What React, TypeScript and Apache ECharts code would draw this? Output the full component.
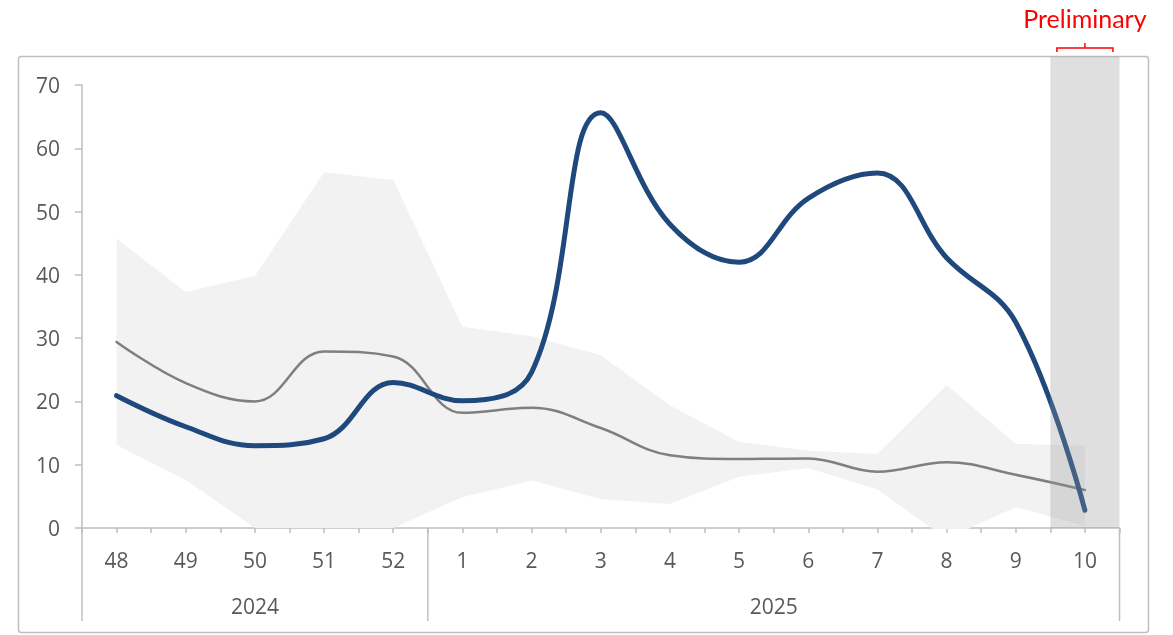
import React, { useEffect, useRef } from "react";
import * as echarts from "echarts";

const weeks = ["48", "49", "50", "51", "52", "1", "2", "3", "4", "5", "6", "7", "8", "9", "10"];
const years = ["2024", "2025"];
const yearStartIndex = [0, 5];
const current = [20.9, 16.0, 13.0, 14.1, 23.0, 20.1, 24.6, 65.6, 48.0, 42.0, 52.1, 56.1, 42.7, 32.5, 2.8];
const average = [29.4, 22.9, 20.0, 27.9, 27.1, 18.2, 19.0, 15.8, 11.5, 10.9, 11.0, 8.9, 10.4, 8.4, 6.0];
const rangeMin = [13.1, 7.6, 0, 0, 0, 4.9, 7.5, 4.6, 3.8, 8.1, 9.5, 6.1, -1.7, 3.3, 0.3];
const rangeMax = [45.7, 37.3, 39.8, 56.2, 55.0, 31.8, 30.3, 27.3, 19.4, 13.6, 12.2, 11.7, 22.6, 13.3, 13.0];
const yMin = 0;
const yMax = 70;
const yInterval = 10;
const preliminaryIndex = 14;
const preliminaryLabel = "Preliminary";

export default function App() {
  const ref = useRef<HTMLDivElement>(null);
  useEffect(() => {
    const chart = echarts.init(ref.current!, null, { renderer: "svg" });
    const axisColor = "#BFBFBF";
    const labelColor = "#595959";
    const font = "'Open Sans', 'Noto Sans', sans-serif";
    const axisLine = { show: true, lineStyle: { color: axisColor, width: 1.5 } };
    chart.setOption({
      animation: false,
      grid: { left: 82, right: 53.5, top: 85, bottom: 107, containLabel: false },
      xAxis: [
        {
          type: "category",
          data: weeks,
          boundaryGap: true,
          position: "bottom",
          axisLine,
          axisTick: { show: true, length: 5, lineStyle: { color: axisColor, width: 1.5 } },
          axisLabel: { color: labelColor, fontSize: 21, margin: 21, fontFamily: font, interval: 0 },
          splitLine: { show: false },
        },
        {
          type: "category",
          data: weeks,
          boundaryGap: true,
          position: "bottom",
          axisLine: { show: false },
          axisTick: { show: true, alignWithLabel: true, length: 5, interval: 0, lineStyle: { color: axisColor, width: 1.5 } },
          axisLabel: { show: false },
          splitLine: { show: false },
        },
      ],
      yAxis: {
        type: "value",
        min: yMin,
        max: yMax,
        interval: yInterval,
        axisLine,
        axisTick: { show: true, length: 7, lineStyle: { color: axisColor, width: 1.5 } },
        splitLine: { show: false },
        axisLabel: { color: labelColor, fontSize: 21, margin: 22, fontFamily: font },
      },
      series: [
        {
          name: "min",
          type: "line",
          stack: "range",
          stackStrategy: "all",
          data: rangeMin,
          symbol: "none",
          lineStyle: { opacity: 0 },
          silent: true,
          z: 1,
        },
        {
          name: "range",
          type: "line",
          stack: "range",
          stackStrategy: "all",
          data: rangeMax.map((v, i) => v - rangeMin[i]),
          symbol: "none",
          lineStyle: { opacity: 0 },
          areaStyle: { color: "#F2F2F2", opacity: 1 },
          silent: true,
          z: 1,
        },
        {
          name: "average",
          type: "line",
          data: average,
          smooth: 0.4,
          symbol: "none",
          lineStyle: { color: "#7F7F7F", width: 2.5, cap: "round" },
          z: 3,
        },
        {
          name: "current",
          type: "line",
          data: current,
          smooth: 0.4,
          symbol: "none",
          lineStyle: { color: "#1F497D", width: 5, cap: "round" },
          z: 4,
        },
      ],
    });

    const px = (i: number) => chart.convertToPixel({ xAxisIndex: 0 }, i) as number;
    const y0 = chart.convertToPixel({ yAxisIndex: 0 }, yMin) as number;
    const step = px(1) - px(0);
    const frameTop = 56.5;
    const dividerBottom = 621;
    const elements: any[] = [];
    elements.push({
      type: "rect",
      shape: { x: 18.5, y: frameTop, width: 1130, height: 576, r: 3 },
      style: { fill: "none", stroke: axisColor, lineWidth: 1.5 },
      silent: true,
      z: 0,
    });
    const ends = yearStartIndex.map((s, j) => (j + 1 < yearStartIndex.length ? yearStartIndex[j + 1] - 1 : weeks.length - 1));
    const divXs: number[] = [];
    years.forEach((yr, j) => {
      const s = yearStartIndex[j];
      const e = ends[j];
      const cx = (px(s) + px(e)) / 2;
      divXs.push(px(s) - step / 2);
      elements.push({
        type: "text",
        style: { text: yr, x: cx, y: 606, textAlign: "center", textVerticalAlign: "middle", fontSize: 21, fill: labelColor, fontFamily: font },
        silent: true,
      });
    });
    divXs.push(px(weeks.length - 1) + step / 2);
    divXs.forEach((x) => {
      elements.push({
        type: "line",
        shape: { x1: x, y1: y0, x2: x, y2: dividerBottom },
        style: { stroke: axisColor, lineWidth: 1.5 },
        silent: true,
      });
    });
    const bc = px(preliminaryIndex);
    elements.push({
      type: "rect",
      shape: { x: bc - step / 2, y: frameTop, width: step, height: y0 - frameTop },
      style: { fill: "rgba(150,150,150,0.3)" },
      silent: true,
      z: 100,
    });
    elements.push({
      type: "text",
      style: { text: preliminaryLabel, x: bc, y: 18, textAlign: "center", textVerticalAlign: "middle", fontSize: 25, fill: "#FF0000", fontFamily: "Lato, 'Open Sans', sans-serif" },
      silent: true,
      z: 100,
    });
    elements.push({
      type: "polyline",
      shape: { points: [[bc - 28, 52], [bc - 28, 48], [bc + 28, 48], [bc + 28, 52]] },
      style: { stroke: "#FF0000", lineWidth: 1.5, fill: "none" },
      silent: true,
      z: 100,
    });
    elements.push({
      type: "line",
      shape: { x1: bc, y1: 48, x2: bc, y2: 43 },
      style: { stroke: "#FF0000", lineWidth: 1.5 },
      silent: true,
      z: 100,
    });
    chart.setOption({ graphic: { elements } });

    return () => chart.dispose();
  }, []);
  return <div ref={ref} style={{ position: "fixed", left: 0, top: 0, width: 1173, height: 635 }} />;
}
